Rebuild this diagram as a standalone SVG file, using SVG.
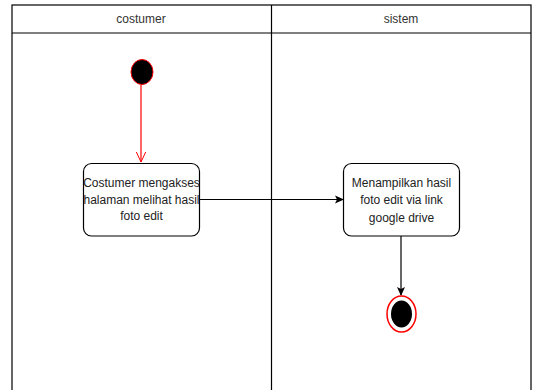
<svg xmlns="http://www.w3.org/2000/svg" width="533" height="390" viewBox="0 0 533 390">
<style>
.lane{fill:none;stroke:#000;stroke-width:1.2}
.hdr{font-family:"Liberation Sans",Arial,sans-serif;font-size:12px;fill:#333;text-anchor:middle}
.box{fill:#fff;stroke:#000;stroke-width:1.2}
.lbl{font-family:"Liberation Sans",Arial,sans-serif;font-size:12px;fill:#222;text-anchor:middle}
.edge{fill:none;stroke:#000;stroke-width:1.2}
</style>
<defs>
<marker id="arr" markerWidth="10" markerHeight="10" refX="8" refY="5" orient="auto" markerUnits="userSpaceOnUse">
<path d="M0,1 L9,5 L0,9 L2,5 Z" fill="#000"/>
</marker>
<marker id="open" markerWidth="12" markerHeight="12" refX="10" refY="6" orient="auto" markerUnits="userSpaceOnUse">
<path d="M0,1.3 L10,6 L0,10.7" fill="none" stroke="#f00" stroke-width="1"/>
</marker>
</defs>
<rect width="533" height="390" fill="#fff"/>
<g id="lanes">
<rect class="lane" x="12" y="5" width="519" height="390"/>
<line class="lane" x1="12" y1="33" x2="531" y2="33"/>
<line class="lane" x1="271.5" y1="5" x2="271.5" y2="390"/>
<text class="hdr" x="141" y="23">costumer</text>
<text class="hdr" x="401" y="23">sistem</text>
</g>
<g id="connectors">
<line class="edge" x1="141" y1="85" x2="141" y2="162" stroke="#f00" style="stroke:#f00" marker-end="url(#open)"/>
<line class="edge" x1="199" y1="199.5" x2="343" y2="199.5" marker-end="url(#arr)"/>
<line class="edge" x1="401" y1="236" x2="401" y2="295" marker-end="url(#arr)"/>
</g>
<g id="start">
<ellipse cx="142" cy="72" rx="11" ry="12.5" fill="#000" stroke="#f00" stroke-width="1"/>
</g>
<g id="act1">
<rect class="box" x="83.5" y="163.5" width="116" height="72.5" rx="8"/>
<text class="lbl" x="141.5" y="187">Costumer mengakses</text>
<text class="lbl" x="141.5" y="203.5">halaman melihat hasil</text>
<text class="lbl" x="141.5" y="220">foto edit</text>
</g>
<g id="act2">
<rect class="box" x="343.5" y="163.5" width="116" height="72.5" rx="8"/>
<text class="lbl" x="401.5" y="187">Menampilkan hasil</text>
<text class="lbl" x="401.5" y="204">foto edit via link</text>
<text class="lbl" x="401.5" y="222">google drive</text>
</g>
<g id="end">
<ellipse cx="401.5" cy="314" rx="14.5" ry="18" fill="#fff" stroke="#f00" stroke-width="1.5"/>
<ellipse cx="401.5" cy="314" rx="10.5" ry="13.5" fill="#000"/>
</g>
</svg>
